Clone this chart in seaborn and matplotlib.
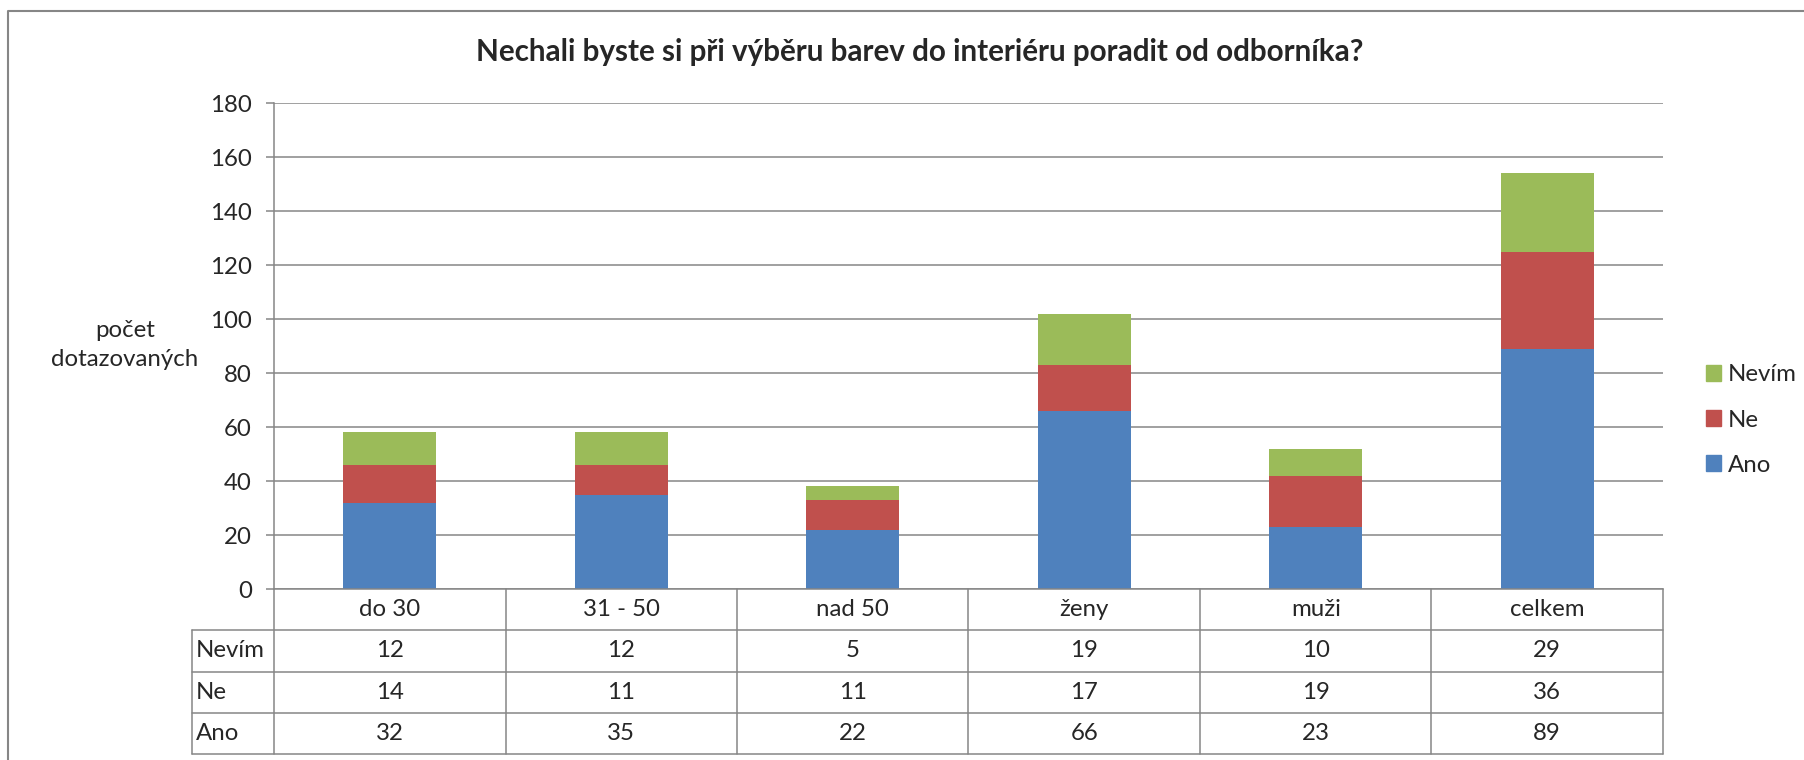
import numpy as np
import pandas as pd
import matplotlib
matplotlib.use('Agg')
import matplotlib.pyplot as plt
import matplotlib.transforms as mtransforms
from matplotlib.lines import Line2D
from matplotlib.patches import Patch
import seaborn as sns

# Data
kategorie = ['do 30', '31 - 50', 'nad 50', 'ženy', 'muži', 'celkem']
ano = [32, 35, 22, 66, 23, 89]
ne = [14, 11, 11, 17, 19, 36]
nevim = [12, 12, 5, 19, 10, 29]
odpovedi = ['Nevím', 'Ne', 'Ano']
y_ticks = [0, 20, 40, 60, 80, 100, 120, 140, 160, 180]
barvy = {'Ano': '#4F81BD', 'Ne': '#C0504D', 'Nevím': '#9BBB59'}
seda = '#868686'

df = pd.DataFrame({'kategorie': kategorie, 'Ano': ano, 'Ne': ne, 'Nevím': nevim})
df['Ano_Ne'] = df['Ano'] + df['Ne']
df['Celkem'] = df['Ano_Ne'] + df['Nevím']
hodnoty = {'Ano': ano, 'Ne': ne, 'Nevím': nevim}

sns.set_theme(style='white')
plt.rcParams['font.family'] = ['Lato', 'DejaVu Sans']
fs = 17.3

W, H = 1804, 760
fig = plt.figure(figsize=(W / 100, H / 100), dpi=100)
ax = fig.add_axes([274 / W, 1 - 589 / H, (1663 - 274) / W, (589 - 103.3) / H])

# Stacked bars: cumulative totals drawn over each other
sns.barplot(data=df, x='kategorie', y='Celkem', order=kategorie, color=barvy['Nevím'],
            width=0.4, saturation=1, ax=ax, linewidth=0)
sns.barplot(data=df, x='kategorie', y='Ano_Ne', order=kategorie, color=barvy['Ne'],
            width=0.4, saturation=1, ax=ax, linewidth=0)
sns.barplot(data=df, x='kategorie', y='Ano', order=kategorie, color=barvy['Ano'],
            width=0.4, saturation=1, ax=ax, linewidth=0)

ax.set_xlim(-0.5, len(kategorie) - 0.5)
ax.set_ylim(0, 180)
ax.set_yticks(y_ticks)
ax.yaxis.grid(True, color=seda, linewidth=1.1)
ax.set_axisbelow(True)
ax.set_xlabel('')
ax.set_ylabel('')
ax.set_xticklabels([])
ax.tick_params(axis='x', length=0)
ax.tick_params(axis='y', length=6, width=1.1, color=seda, labelsize=fs, pad=10, left=True)
for s in ['top', 'right']:
    ax.spines[s].set_visible(False)
for s in ['left', 'bottom']:
    ax.spines[s].set_color(seda)
    ax.spines[s].set_linewidth(1.1)

# Data table under the chart
tr = mtransforms.blended_transform_factory(ax.transData, ax.transAxes)
h = 41.3 / (589 - 103.3)
x_lab = -0.5 - 82 / 231.5
n = len(kategorie)
kw = dict(transform=tr, clip_on=False, color=seda, linewidth=1.1)
for k in range(n + 1):
    ax.add_line(Line2D([k - 0.5, k - 0.5], [0, -4 * h], **kw))
ax.add_line(Line2D([x_lab, x_lab], [-h, -4 * h], **kw))
for r in range(1, 5):
    ax.add_line(Line2D([x_lab, n - 0.5], [-r * h, -r * h], **kw))

for i, kat in enumerate(kategorie):
    ax.text(i, -0.5 * h, kat, transform=tr, ha='center', va='center', fontsize=fs)
for r, odp in enumerate(odpovedi):
    yc = -(r + 1.5) * h
    ax.text(x_lab + 0.018, yc, odp, transform=tr, ha='left', va='center', fontsize=fs)
    for i, v in enumerate(hodnoty[odp]):
        ax.text(i, yc, str(v), transform=tr, ha='center', va='center', fontsize=fs)

# Title, axis label, legend
fig.text(920 / W, 1 - 52 / H, 'Nechali byste si při výběru barev do interiéru poradit od odborníka?',
         ha='center', va='center', fontsize=21.3, fontweight='bold')
fig.text(125 / W, 1 - 345 / H, 'počet\ndotazovaných', ha='center', va='center',
         fontsize=fs, linespacing=1.45)

handles = [Patch(color=barvy[o], label=o) for o in odpovedi]
fig.legend(handles=handles, loc='center left', bbox_to_anchor=(1706 / W, 1 - 420 / H),
           frameon=False, fontsize=fs, handlelength=0.62, handleheight=0.62,
           handletextpad=0.3, labelspacing=1.0, borderpad=0, borderaxespad=0)

# Chart frame
fig.add_artist(Line2D([8 / W, 8 / W, 1], [0, 1 - 11 / H, 1 - 11 / H],
                      transform=fig.transFigure, color=seda, linewidth=1.5))

fig.savefig('out.png', dpi=100)
